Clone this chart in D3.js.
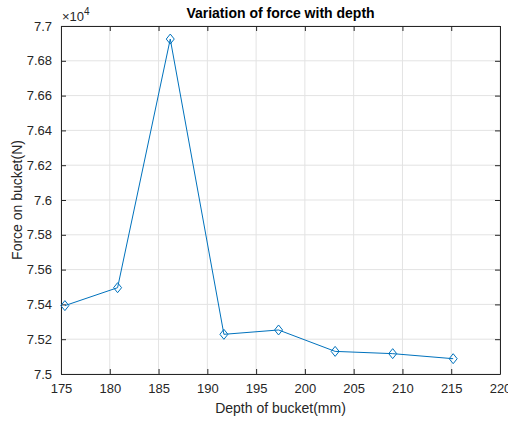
<!DOCTYPE html>
<html>
<head>
<meta charset="utf-8">
<script src="https://cdn.jsdelivr.net/npm/d3@7"></script>
<style>
  body { margin: 0; background: #fff; }
  text { font-family: "Liberation Sans", Arial, sans-serif; fill: #262626; }
</style>
</head>
<body>
<div id="chart"></div>
<script>
// data
var depth = [175.4, 180.8, 186.2, 191.7, 197.3, 203.1, 209.0, 215.2];
var force = [75393, 75496, 76925, 75228, 75253, 75130, 75117, 75088];
var xTicks = [175, 180, 185, 190, 195, 200, 205, 210, 215, 220];
var yTicks = [75000, 75200, 75400, 75600, 75800, 76000, 76200, 76400, 76600, 76800, 77000];

var svgWidth = 508, svgHeight = 421;
var margin = { top: 26, right: 8, bottom: 47, left: 61 };
var width = svgWidth - margin.left - margin.right;
var height = svgHeight - margin.top - margin.bottom;

var svg = d3.select("#chart").append("svg")
  .attr("width", svgWidth)
  .attr("height", svgHeight);

var g = svg.append("g")
  .attr("transform", `translate(${margin.left}, ${margin.top})`);

var x = d3.scaleLinear().domain([175, 220]).range([0, width]);
var y = d3.scaleLinear().domain([75000, 77000]).range([height, 0]);

// grid
g.selectAll(".vgrid").data(xTicks).enter().append("line")
  .attr("x1", d => x(d)).attr("x2", d => x(d))
  .attr("y1", 0).attr("y2", height)
  .attr("stroke", "#e3e3e3").attr("stroke-width", 1);
g.selectAll(".hgrid").data(yTicks).enter().append("line")
  .attr("x1", 0).attr("x2", width)
  .attr("y1", d => y(d)).attr("y2", d => y(d))
  .attr("stroke", "#e3e3e3").attr("stroke-width", 1);

// axes, ticks pointing inwards like matlab
var fmtY = d => (d / 10000).toString();
var bottomAxis = g.append("g")
  .attr("transform", `translate(0, ${height})`)
  .call(d3.axisBottom(x).tickValues(xTicks).tickSizeInner(-5).tickSizeOuter(0).tickPadding(10));
var topAxis = g.append("g")
  .call(d3.axisTop(x).tickValues(xTicks).tickSizeInner(-5).tickSizeOuter(0).tickFormat(""));
var leftAxis = g.append("g")
  .call(d3.axisLeft(y).tickValues(yTicks).tickSizeInner(-5).tickSizeOuter(0).tickPadding(9).tickFormat(fmtY));
var rightAxis = g.append("g")
  .attr("transform", `translate(${width}, 0)`)
  .call(d3.axisRight(y).tickValues(yTicks).tickSizeInner(-5).tickSizeOuter(0).tickFormat(""));

[bottomAxis, topAxis, leftAxis, rightAxis].forEach(function(a) {
  a.selectAll("path").attr("stroke", "#262626").attr("stroke-width", 1);
  a.selectAll("line").attr("stroke", "#262626");
  a.selectAll("text").attr("font-size", "13px").style("fill", "#262626");
});

// line
var line = d3.line()
  .x((d, i) => x(depth[i]))
  .y(d => y(d));

g.append("path")
  .datum(force)
  .attr("fill", "none")
  .attr("stroke", "#0072bd")
  .attr("stroke-width", 1)
  .attr("d", line);

// diamond markers
g.selectAll(".pt").data(force).enter().append("path")
  .attr("transform", (d, i) => `translate(${x(depth[i])}, ${y(d)})`)
  .attr("d", "M0,-5L4,0L0,5L-4,0Z")
  .attr("fill", "none")
  .attr("stroke", "#0072bd")
  .attr("stroke-width", 1);

// exponent
var expo = svg.append("text")
  .attr("x", margin.left + 1)
  .attr("y", margin.top - 5)
  .attr("font-size", "13px");
expo.append("tspan").text("\u00d710");
expo.append("tspan").attr("dy", -6).attr("font-size", "10px").text("4");

// title
svg.append("text")
  .attr("x", margin.left + width / 2)
  .attr("y", 18)
  .attr("text-anchor", "middle")
  .attr("font-size", "14px")
  .attr("font-weight", "bold")
  .style("fill", "#000")
  .text("Variation of force with depth");

// axis labels
svg.append("text")
  .attr("x", margin.left + width / 2)
  .attr("y", 413)
  .attr("text-anchor", "middle")
  .attr("font-size", "14px")
  .text("Depth of bucket(mm)");

svg.append("text")
  .attr("transform", `translate(22, ${margin.top + height / 2}) rotate(-90)`)
  .attr("text-anchor", "middle")
  .attr("font-size", "14px")
  .text("Force on bucket(N)");
</script>
</body>
</html>
